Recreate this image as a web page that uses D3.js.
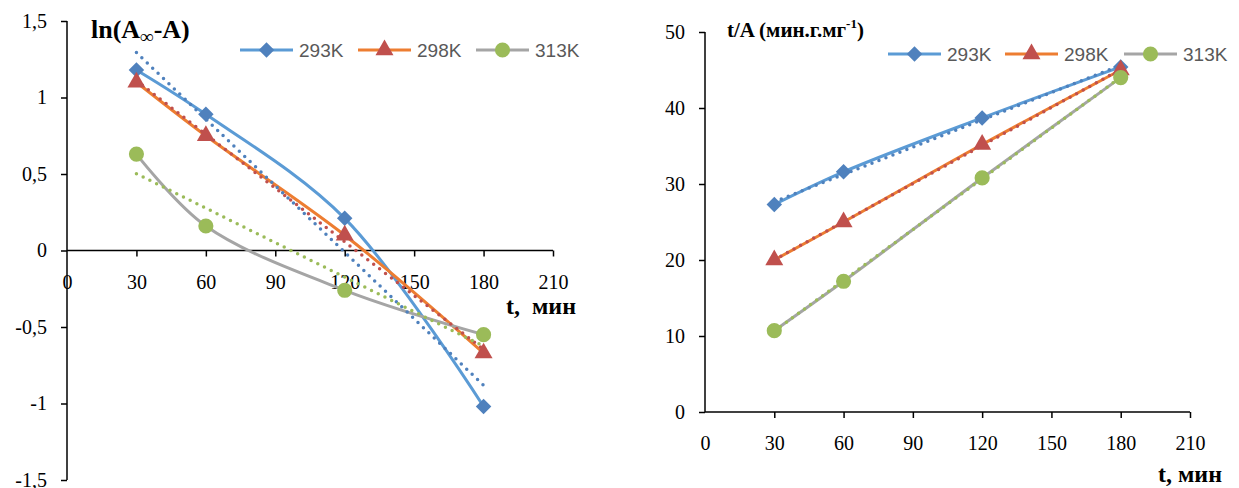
<!DOCTYPE html>
<html>
<head>
<meta charset="utf-8">
<script src="https://cdn.jsdelivr.net/npm/d3@7"></script>
<style>
	body { margin: 0; background: #fff; }
</style>
</head>
<body>
<div id="chart"></div>
<script>
var times = [30, 60, 120, 180];
var seriesNames = ["293K", "298K", "313K"];

// ln(A∞ - A)
var ln293 = [1.18, 0.89, 0.21, -1.02];
var ln298 = [1.10, 0.75, 0.10, -0.67];
var ln313 = [0.63, 0.16, -0.26, -0.55];

// t/A
var ta293 = [27.3, 31.6, 38.7, 45.4];
var ta298 = [20.0, 25.0, 35.2, 45.0];
var ta313 = [10.7, 17.2, 30.8, 44.0];

var xTicks = [0, 30, 60, 90, 120, 150, 180, 210];
var lnTicks = [-1.5, -1, -0.5, 0, 0.5, 1, 1.5];
var taTicks = [0, 10, 20, 30, 40, 50];

var lineColors = ["#5B9BD5", "#ED7D31", "#A5A5A5"];
var markColors = ["#4F81BD", "#C0504D", "#9BBB59"];
var markShapes = [d3.symbolSquare, d3.symbolTriangle, d3.symbolCircle];
var markSizes = [120, 140, 180];
var markRotate = [" rotate(45)", "", ""];

var SERIF = "'Liberation Serif', 'Times New Roman', Times, 'DejaVu Serif', serif";
var SANS = "'Liberation Sans', Arial, sans-serif";

var svg = d3.select("div#chart").append("svg")
		.attr("width", 1239)
		.attr("height", 488);

function fmt(d) { return String(d).replace(".", ","); }

function drawChart(opt) {
	var x = d3.scaleLinear().domain([0, 210]).range([opt.left, opt.right]);
	var y = d3.scaleLinear().domain(opt.yDomain).range([opt.bottom, opt.top]);

	var g = svg.append("g");

	g.append("g")
		.attr("class", "y axis")
		.attr("transform", "translate(" + opt.left + ",0)")
		.call(d3.axisLeft(y).tickValues(opt.yTicks).tickSize(6).tickPadding(14).tickFormat(fmt));

	g.append("g")
		.attr("class", "x axis")
		.attr("transform", "translate(0," + y(0) + ")")
		.call(d3.axisBottom(x).tickValues(xTicks).tickSize(6).tickPadding(18).tickFormat(d3.format("d")));

	g.selectAll(".axis text")
		.style("font-family", SERIF)
		.style("font-size", "20px")
		.style("fill", "#000");
	g.selectAll(".axis path, .axis line")
		.attr("stroke", "#000")
		.attr("stroke-width", 1.5);
	g.selectAll(".axis .domain").attr("d", function() {
		return d3.select(this.parentNode).classed("y") ?
			"M0," + opt.top + "V" + opt.bottom :
			"M" + opt.left + ",0H" + opt.right;
	});
	g.selectAll(".x.axis .tick").filter(function(d) { return d === 0; }).select("line").remove();

	var line = d3.line()
		.x(function(d) { return x(d[0]); })
		.y(function(d) { return y(d[1]); })
		.curve(d3.curveCatmullRom.alpha(0.5));

	opt.series.forEach(function(vals, i) {
		var pts = times.map(function(t, j) { return [t, vals[j]]; });
		g.append("path")
			.attr("d", line(pts))
			.attr("fill", "none")
			.attr("stroke", lineColors[i])
			.attr("stroke-width", 3);
	});

	// linear trendlines (least squares, like the spreadsheet)
	opt.series.forEach(function(vals, i) {
		var mx = d3.mean(times), my = d3.mean(vals);
		var sxy = d3.sum(times, function(t, j) { return (t - mx) * (vals[j] - my); });
		var sxx = d3.sum(times, function(t) { return (t - mx) * (t - mx); });
		var k = sxy / sxx, b = my - k * mx;
		var t0 = times[0], t1 = times[times.length - 1];
		g.append("line")
			.attr("x1", x(t0)).attr("y1", y(k * t0 + b))
			.attr("x2", x(t1)).attr("y2", y(k * t1 + b))
			.attr("stroke", markColors[i])
			.attr("stroke-width", 3.5)
			.attr("stroke-linecap", "round")
			.attr("stroke-dasharray", "0 7.5");
	});

	opt.series.forEach(function(vals, i) {
		g.selectAll(null)
			.data(vals)
			.enter()
			.append("path")
			.attr("d", d3.symbol().type(markShapes[i]).size(markSizes[i]))
			.attr("transform", function(d, j) {
				return "translate(" + x(times[j]) + "," + y(d) + ")" + markRotate[i];
			})
			.attr("fill", markColors[i]);
	});

	// legend
	var lg = g.append("g");
	seriesNames.forEach(function(name, i) {
		var lx = opt.legendX[i], ly = opt.legendY;
		lg.append("line")
			.attr("x1", lx).attr("x2", lx + 53)
			.attr("y1", ly).attr("y2", ly)
			.attr("stroke", lineColors[i])
			.attr("stroke-width", 3);
		lg.append("path")
			.attr("d", d3.symbol().type(markShapes[i]).size(markSizes[i]))
			.attr("transform", "translate(" + (lx + 26.5) + "," + ly + ")" + markRotate[i])
			.attr("fill", markColors[i]);
		lg.append("text")
			.attr("x", lx + 59)
			.attr("y", ly)
			.attr("dy", "0.35em")
			.style("font-family", SANS)
			.style("font-size", "19px")
			.style("fill", "#595959")
			.text(name);
	});

	opt.title(g);

	g.append("text")
		.attr("x", opt.xLabelX)
		.attr("y", opt.xLabelY)
		.attr("text-anchor", "end")
		.style("font-family", SERIF)
		.style("font-weight", "bold")
		.style("font-size", "24px")
		.style("white-space", "pre")
		.text(opt.xLabel);
}

drawChart({
	left: 67, right: 553, top: 21, bottom: 480,
	yDomain: [-1.5, 1.5], yTicks: lnTicks,
	series: [ln293, ln298, ln313],
	legendX: [240, 358, 476], legendY: 50,
	xLabel: "t,  мин", xLabelX: 576, xLabelY: 314,
	title: function(g) {
		var t = g.append("text")
			.attr("x", 91).attr("y", 38)
			.style("font-family", SERIF)
			.style("font-weight", "bold")
			.style("font-size", "26px");
		t.append("tspan").text("ln(A");
		t.append("tspan").style("font-size", "19px").attr("dy", 5).text("∞");
		t.append("tspan").attr("dy", -5).text("-A)");
	}
});

drawChart({
	left: 705, right: 1190, top: 32, bottom: 412,
	yDomain: [0, 50], yTicks: taTicks,
	series: [ta293, ta298, ta313],
	legendX: [888, 1005, 1124], legendY: 54,
	xLabel: "t, мин", xLabelX: 1222, xLabelY: 482,
	title: function(g) {
		var t = g.append("text")
			.attr("x", 727).attr("y", 37)
			.style("font-family", SERIF)
			.style("font-weight", "bold")
			.style("font-size", "21px");
		t.append("tspan").text("t/A (мин.г.мг");
		t.append("tspan").style("font-size", "13px").attr("dy", -9).text("-1");
		t.append("tspan").attr("dy", 9).text(")");
	}
});
</script>
</body>
</html>
